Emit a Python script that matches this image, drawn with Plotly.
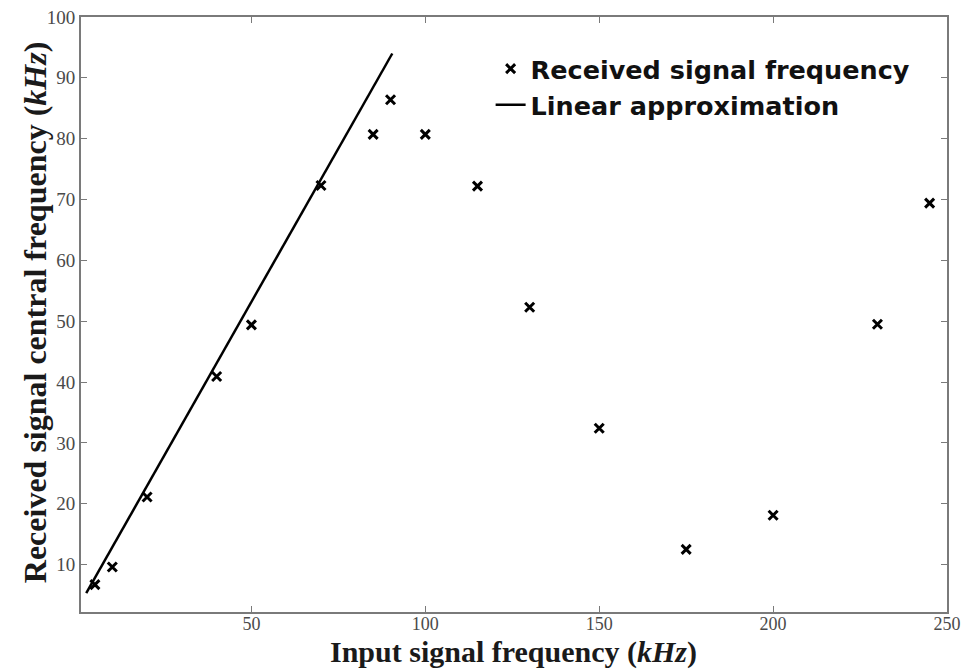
import plotly.graph_objects as go

# Measured points: input frequency vs. received central frequency (kHz)
input_khz = [5, 10, 20, 40, 50, 70, 85, 90, 100, 115, 130, 150, 175, 200, 230, 245]
received_khz = [6.7, 9.6, 21.1, 40.9, 49.4, 72.3, 80.7, 86.4, 80.7, 72.2, 52.3, 32.4,
                12.5, 18.1, 49.5, 69.4]

# Linear fit over the low-frequency region
fit_x = [2.5, 90.5]
fit_y = [5.3, 94.0]

x_ticks = [50, 100, 150, 200, 250]
y_ticks = [10, 20, 30, 40, 50, 60, 70, 80, 90, 100]

fig = go.Figure()
fig.add_trace(go.Scatter(
    x=input_khz, y=received_khz, mode="markers",
    name="<b>Received signal frequency</b>",
    marker=dict(symbol="x-thin", size=9, color="black",
                line=dict(color="black", width=3)),
))
fig.add_trace(go.Scatter(
    x=fit_x, y=fit_y, mode="lines",
    name="<b>Linear approximation</b>",
    line=dict(color="black", width=2.5),
))

axis_common = dict(
    showline=True, linecolor="#7a7a7a", linewidth=2, mirror="ticks",
    ticks="inside", ticklen=6, tickwidth=1, tickcolor="#7a7a7a",
    showgrid=False, zeroline=False, automargin=False,
    tickfont=dict(family="Liberation Serif", size=19, color="#4a4a4a"),
)

fig.update_xaxes(range=[1, 250], tickvals=x_ticks,
                 ticktext=[str(v) for v in x_ticks], **axis_common)
fig.update_xaxes(tickfont=dict(family="Liberation Serif", size=18, color="#4a4a4a"),
                 ticklabelstandoff=-6)
fig.update_yaxes(range=[2.2, 100], tickvals=y_ticks,
                 ticktext=[str(v) for v in y_ticks], **axis_common)

# Axis titles placed as annotations so they sit tight against the tick labels
fig.add_annotation(
    text="<b>Input signal frequency (<i>kHz</i>)</b>",
    xref="paper", yref="paper", x=0.499, y=-0.0672,
    xanchor="center", yanchor="middle", showarrow=False,
    font=dict(family="Liberation Serif", size=30, color="#1a1a1a"),
)
fig.add_annotation(
    text="<b>Received signal central frequency (<i>kHz</i>)</b>",
    xref="paper", yref="paper", x=-0.053, y=0.504, textangle=-90,
    xanchor="center", yanchor="middle", showarrow=False,
    font=dict(family="Liberation Serif", size=32, color="#1a1a1a"),
)

fig.update_layout(
    width=966, height=670,
    margin=dict(l=81, r=19, t=17, b=58),
    paper_bgcolor="white", plot_bgcolor="white",
    showlegend=True,
    legend=dict(
        x=0.473, y=0.952, xanchor="left", yanchor="top",
        bgcolor="rgba(0,0,0,0)", borderwidth=0,
        font=dict(family="DejaVu Sans", size=25.5, color="#111111"),
        itemwidth=30,
    ),
)

fig.write_html("out.html")
